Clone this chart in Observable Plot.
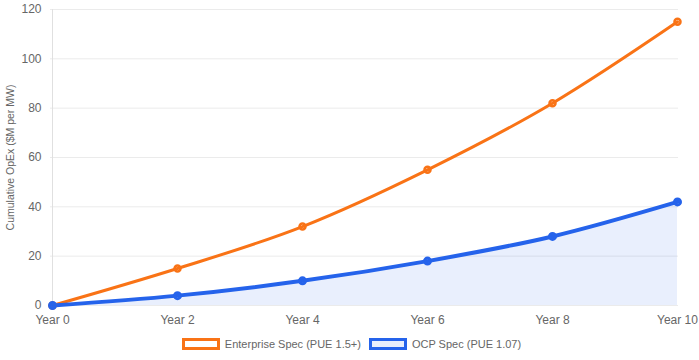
<!DOCTYPE html>
<html>
<head>
<meta charset="utf-8">
<script src="https://cdn.jsdelivr.net/npm/d3@7"></script>
<script src="https://cdn.jsdelivr.net/npm/@observablehq/plot@0.6"></script>
<style>
  body { margin: 0; background: #fff; font-family: "Liberation Sans", Arial, Helvetica, sans-serif; }
  #chart svg { display: block; }
  .legend { display: flex; justify-content: center; align-items: center; gap: 8px; font-size: 11px; color: #666; margin-top: 8px; height: 12px; padding-left: 4px; }
  .item { display: flex; align-items: center; gap: 5px; }
  .box { width: 32px; height: 6px; border-width: 3px; border-style: solid; }
</style>
</head>
<body>
<div id="chart"></div>
<div class="legend" id="legend"></div>
<script>
const years = ["Year 0", "Year 2", "Year 4", "Year 6", "Year 8", "Year 10"];
const enterprise = [0, 15, 32, 55, 82, 115];
const ocp = [0, 4, 10, 18, 28, 42];
const yTicks = [0, 20, 40, 60, 80, 100, 120];
const seriesNames = ["Enterprise Spec (PUE 1.5+)", "OCP Spec (PUE 1.07)"];
const colors = ["#f97316", "#2563eb"];
const fills = ["rgba(249,115,22,0.06)", "rgba(37,99,235,0.1)"];

const entData = years.map((y, i) => ({year: y, value: enterprise[i]}));
const ocpData = years.map((y, i) => ({year: y, value: ocp[i]}));

const chart = Plot.plot({
  width: 699,
  height: 330,
  marginTop: 9,
  marginBottom: 25,
  marginLeft: 50,
  marginRight: 21,
  style: { fontFamily: "Liberation Sans, Arial, sans-serif", fontSize: "12px", color: "#666" },
  x: { type: "point", domain: years, padding: 0 },
  y: { domain: [0, 120] },
  marks: [
    Plot.ruleY(yTicks, { stroke: "#ebebeb", strokeWidth: 1 }),
    Plot.ruleX([years[0]], { stroke: "#e0e0e0", strokeWidth: 1 }),
    Plot.axisY({ ticks: yTicks, tickSize: 0, tickPadding: 9, label: null, fill: "#666" }),
    Plot.text(["Cumulative OpEx ($M per MW)"], { frameAnchor: "left", dx: -40, rotate: -90, textAnchor: "middle", fontSize: 10.5, fill: "#666" }),
    Plot.axisX({ tickSize: 0, tickPadding: 10, label: null, fill: "#666" }),
    Plot.areaY(ocpData, { x: "year", y: "value", fill: fills[1], curve: "monotone-x" }),
    Plot.lineY(entData, { x: "year", y: "value", stroke: colors[0], strokeWidth: 3, curve: "monotone-x" }),
    Plot.lineY(ocpData, { x: "year", y: "value", stroke: colors[1], strokeWidth: 4, curve: "monotone-x" }),
    Plot.dot(entData, { x: "year", y: "value", stroke: colors[0], fill: "none", strokeWidth: 2.5, r: 3 }),
    Plot.dot(ocpData, { x: "year", y: "value", stroke: colors[1], fill: "none", strokeWidth: 3, r: 3 })
  ]
});
document.getElementById("chart").appendChild(chart);

const legend = document.getElementById("legend");
seriesNames.forEach((name, i) => {
  const item = document.createElement("div");
  item.className = "item";
  const box = document.createElement("div");
  box.className = "box";
  box.style.borderColor = colors[i];
  box.style.background = i === 0 ? "#fff" : "#e8eefc";
  const label = document.createElement("span");
  label.textContent = name;
  item.appendChild(box);
  item.appendChild(label);
  legend.appendChild(item);
});
</script>
</body>
</html>
